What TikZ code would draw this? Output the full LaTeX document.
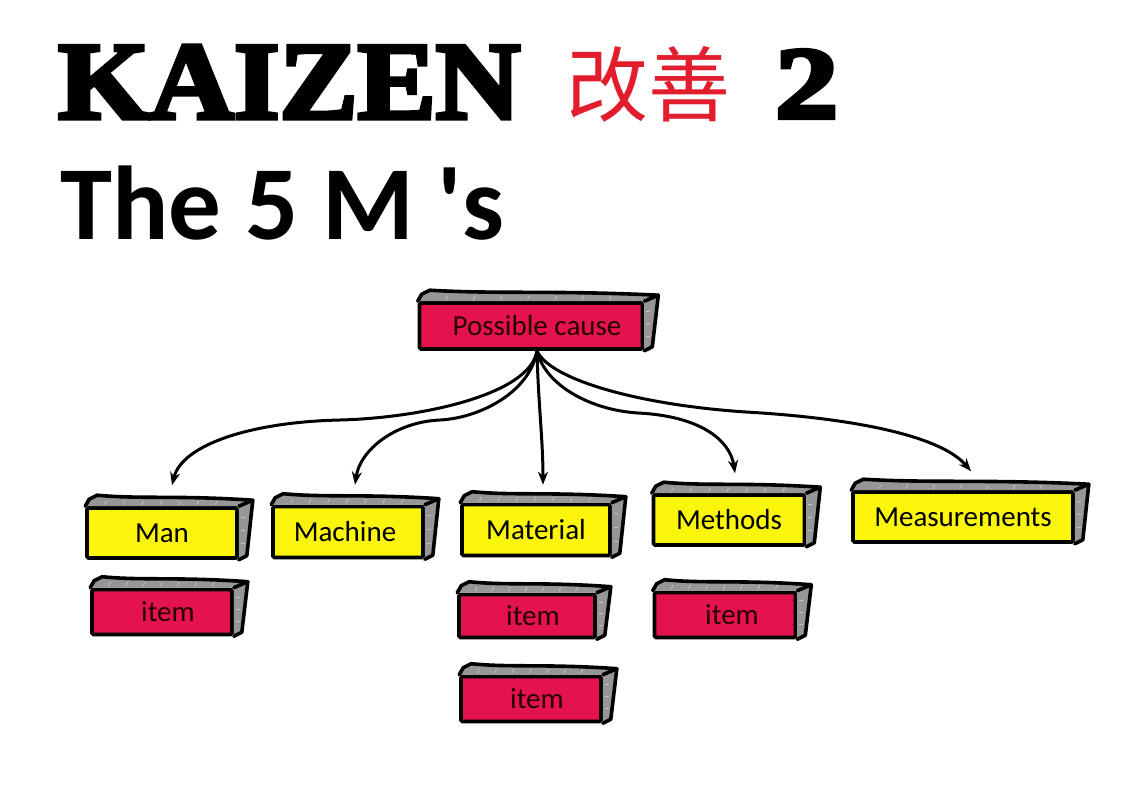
\documentclass[tikz,border=0pt]{standalone}
\usepackage{fontspec}
\usetikzlibrary{calc,arrows.meta}
\newfontfamily\calib{Carlito}
\newfontfamily\kzfont{Liberation Serif}[BoldFeatures={FakeBold=4}]
\newfontfamily\cjk{Noto Sans CJK SC}
\definecolor{kzred}{RGB}{226,30,45}
\definecolor{boxyellow}{RGB}{250,245,10}
\definecolor{boxred}{RGB}{229,19,77}
\definecolor{sidegray}{RGB}{150,150,150}
\definecolor{tickgray}{RGB}{195,195,195}
\newcommand\skdeco[1]{%
  \fill[sidegray] (#1.north west) -- ($(#1.north west)+(4pt,7pt)$) -- ($(#1.north west)+(12pt,11pt)$)
    .. controls ($(#1.north west)!0.35!(#1.north east)+(0,7pt)$) and ($(#1.north west)!0.6!(#1.north east)+(0,11pt)$) ..
    ($(#1.north east)+(14pt,6pt)$) -- (#1.north east) -- cycle;
  \fill[sidegray] (#1.north east) -- ($(#1.north east)+(14pt,6pt)$) -- ($(#1.south east)+(8pt,4pt)$) -- (#1.south east) -- cycle;
  \foreach \t in {0.12,0.24,0.36,0.48,0.6,0.72,0.84} {
    \draw[tickgray, line width=0.8pt] ($(#1.north west)!\t!(#1.north east)+(1pt,1.5pt)$) -- ++(2pt,4pt);
  }
  \foreach \t in {0.2,0.45,0.7} {
    \draw[tickgray, line width=0.8pt] ($(#1.north east)!\t!(#1.south east)+(2pt,0)$) -- ++(4pt,0pt);
  }
  \draw[rim] (#1.north west) -- ($(#1.north west)+(4pt,7pt)$) -- ($(#1.north west)+(12pt,11pt)$)
    .. controls ($(#1.north west)!0.35!(#1.north east)+(0,7pt)$) and ($(#1.north west)!0.6!(#1.north east)+(0,11pt)$) ..
    ($(#1.north east)+(14pt,6pt)$) -- (#1.north east);
  \draw[rim] ($(#1.north east)+(14pt,6pt)$) -- ($(#1.south east)+(8pt,4pt)$) -- (#1.south east);
}
\begin{document}
\begin{tikzpicture}[x=1pt,y=-1pt,
  face/.style={draw=black, line width=3.6pt, rounded corners=1.5pt, inner sep=0pt,
    font=\calib\fontsize{29pt}{29pt}\selectfont},
  yface/.style={face, fill=boxyellow, text=black},
  rface/.style={face, fill=boxred, text=black!85!red},
  rim/.style={draw=black, line width=3.6pt, line join=round, line cap=round},
  flow/.style={draw=black, line width=3pt, -{Stealth[length=13pt,width=10pt]}},
]
\fill[white] (0,0) rectangle (1139,794);
\useasboundingbox (0,0) rectangle (1139,794);

% titles
\node[anchor=west, inner sep=0pt] (kaizen) at (58,82) {\resizebox{462pt}{73pt}{\kzfont\bfseries KAIZEN}};
\node[inner sep=0pt, text=kzred] (kanji) at (648,84) {\cjk\fontsize{82pt}{82pt}\selectfont 改善};
\node[anchor=west, inner sep=0pt] (two) at (775,84) {\resizebox{63pt}{68pt}{\kzfont\bfseries 2}};
\node[anchor=base west, inner sep=0pt] (fivem) at (60,240) {\calib\fontsize{105pt}{105pt}\selectfont\bfseries The 5 M 's};

% boxes
\node[rface, minimum width=223pt, minimum height=46pt] (cause) at (531,326) {\hspace*{12pt}Possible cause};
\node[yface, minimum width=150pt, minimum height=50pt] (man) at (162,533) {Man};
\node[yface, minimum width=150pt, minimum height=51pt] (machine) at (348,532) {Machine\hspace*{6pt}};
\node[yface, minimum width=148pt, minimum height=51pt] (material) at (536,530) {Material};
\node[yface, minimum width=151pt, minimum height=50pt] (methods) at (729,520) {Methods};
\node[yface, minimum width=220pt, minimum height=50pt] (measure) at (963,517) {Measurements};
\node[rface, minimum width=140pt, minimum height=45pt] (item1) at (162,612) {\hspace*{12pt}item};
\node[rface, minimum width=136pt, minimum height=43pt] (item2) at (527,616) {\hspace*{12pt}item};
\node[rface, minimum width=140pt, minimum height=45pt] (item3) at (531,699) {\hspace*{12pt}item};
\node[rface, minimum width=141pt, minimum height=45pt] (item4) at (725,615) {\hspace*{14pt}item};

\foreach \b in {cause,man,machine,material,methods,measure,item1,item2,item3,item4} {\skdeco{\b}}

% connectors
\coordinate (o) at ([xshift=6pt]cause.south);
\draw[flow] (o) .. controls (530,395) and (420,418) .. (340,420)
  .. controls (250,422) and (182,445) .. ([xshift=10pt,yshift=21pt]man.north);
\draw[flow] (o) .. controls (530,392) and (480,418) .. (440,420)
  .. controls (395,422) and (360,450) .. ([xshift=7pt,yshift=20pt]machine.north);
\draw[flow] (o) .. controls (538,400) and (543,440) .. ([xshift=7pt,yshift=18pt]material.north);
\draw[flow] (o) .. controls (545,385) and (590,410) .. (638,413)
  .. controls (700,416) and (730,440) .. ([xshift=6pt,yshift=20pt]methods.north);
\draw[flow] (o) .. controls (550,380) and (640,405) .. (746,412)
  .. controls (850,418) and (940,435) .. ([xshift=8pt,yshift=19pt]measure.north);
\end{tikzpicture}
\end{document}
